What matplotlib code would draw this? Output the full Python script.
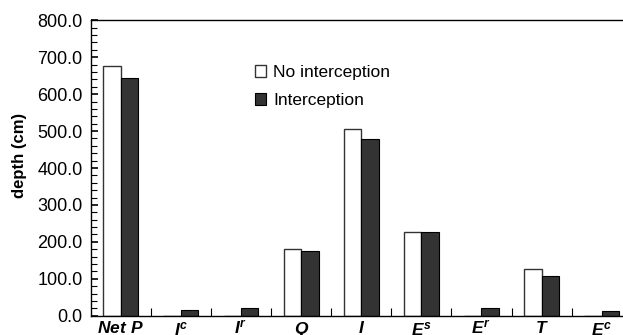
import matplotlib
matplotlib.use("Agg")
import matplotlib.pyplot as plt
import numpy as np

# values (cm)
labels = [r'$Net\ P$', r'$I^{c}$', r'$I^{r}$', r'$Q$', r'$I$', r'$E^{s}$', r'$E^{r}$', r'$T$', r'$E^{c}$']
no_interception = [677, 0, 0, 181, 505, 228, 0, 126, 0]
interception = [643, 16, 21, 174, 479, 228, 21, 107, 13]

plt.rcParams['font.family'] = ['Liberation Sans', 'DejaVu Sans']
plt.rcParams['mathtext.fontset'] = 'custom'
plt.rcParams['mathtext.it'] = 'Liberation Sans:bold:italic'
plt.rcParams['mathtext.rm'] = 'Liberation Sans:bold:italic'
plt.rcParams['mathtext.bf'] = 'Liberation Sans:bold:italic'

fig = plt.figure(figsize=(6.23, 3.35), dpi=100)
ax = fig.add_axes([0.1456, 0.0576, 0.8685, 0.8818])

x = np.arange(len(labels))
w = 0.29
b1 = ax.bar(x - w / 2, no_interception, w, color='white', edgecolor='#333333', linewidth=1.0,
            label='No interception')
b2 = ax.bar(x + w / 2, interception, w, color='#333333', edgecolor='black', linewidth=0.8,
            label='Interception')

ax.set_xlim(-0.5, len(labels) - 0.5)
ax.set_ylim(0, 800)

ax.set_yticks(np.arange(0, 801, 100))
ax.set_yticklabels(['%.1f' % v for v in np.arange(0, 801, 100)], fontsize=13)
ax.set_yticks(np.arange(0, 801, 20), minor=True)
ax.tick_params(axis='y', which='major', direction='in', length=5, width=1.2, pad=6)
ax.tick_params(axis='y', which='minor', direction='in', length=4, width=0.8)

# x ticks at category boundaries, labels at centres
ax.set_xticks(np.arange(0.5, len(labels) - 0.5, 1.0))
ax.set_xticklabels([])
ax.set_xticks(x, minor=True)
ax.set_xticklabels(labels, minor=True, fontsize=12.5)
ax.tick_params(axis='x', which='major', direction='in', length=6, width=0.8)
ax.tick_params(axis='x', which='minor', length=0, pad=3)

ax.set_ylabel('depth (cm)', fontsize=12, fontweight='bold')
ax.yaxis.set_label_coords(-0.118, 0.544)

for s in ax.spines.values():
    s.set_linewidth(1.0)

ax.legend(handles=[b1, b2], loc='upper left', bbox_to_anchor=(255 / 623, 1 - 65 / 335),
          bbox_transform=fig.transFigure, frameon=False, fontsize=12.5,
          handlelength=0.65, handleheight=0.65, handletextpad=0.4, labelspacing=0.75,
          borderpad=0, borderaxespad=0)

fig.savefig('out.png', dpi=100)
